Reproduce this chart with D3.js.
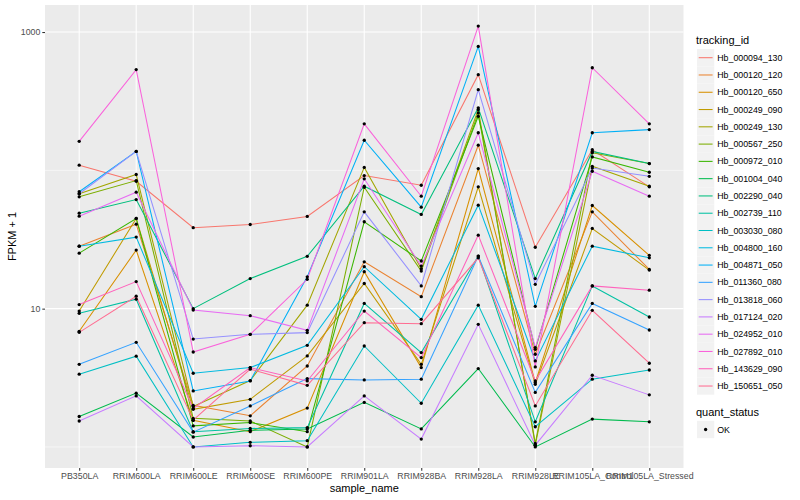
<!DOCTYPE html>
<html>
<head>
<meta charset="utf-8">
<script src="https://cdn.jsdelivr.net/npm/d3@7"></script>
<style>
  html, body { margin: 0; padding: 0; background: #ffffff; }
  svg { display: block; font-family: "Liberation Sans", Arial, Helvetica, sans-serif; }
</style>
</head>
<body>
<svg id="chart" width="800" height="500"></svg>
<script>
// ---------------- data ----------------
const samples = ["PB350LA","RRIM600LA","RRIM600LE","RRIM600SE","RRIM600PE","RRIM901LA",
                 "RRIM928BA","RRIM928LA","RRIM928LE","RRIM105LA_Control","RRIM105LA_Stressed"];

const trackingIds = ["Hb_000094_130","Hb_000120_120","Hb_000120_650","Hb_000249_090","Hb_000249_130",
  "Hb_000567_250","Hb_000972_010","Hb_001004_040","Hb_002290_040","Hb_002739_110","Hb_003030_080",
  "Hb_004800_160","Hb_004871_050","Hb_011360_080","Hb_013818_060","Hb_017124_020","Hb_024952_010",
  "Hb_027892_010","Hb_143629_090","Hb_150651_050"];

const seriesColors = ["#F8766D","#EA8331","#D89000","#C09B00","#A3A500","#7CAE00","#39B600","#00BB4E",
  "#00BF7D","#00C1A3","#00BFC4","#00BAE0","#00B0F6","#35A2FF","#9590FF","#C77CFF","#E76BF3",
  "#FA62DB","#FF62BC","#FF6C91"];

// FPKM + 1, one array per tracking_id, in sample order
const v_000094_130 = [109, 83.4, 38.5, 40.6, 46.4, 91.7, 78, 492, 27.8, 141, 76];
const v_000120_120 = [28.3, 40.8, 2.0, 1.68, 3.85, 21.8, 12.2, 152, 4.68, 50.1, 19.2];
const v_000120_650 = [6.86, 26.5, 1.56, 1.29, 1.91, 18.5, 3.75, 103, 2.92, 55.7, 24.3];
const v_000249_090 = [9.61, 44.9, 1.87, 2.21, 4.55, 15.2, 3.96, 76, 2.84, 38, 19.0];
const v_000249_130 = [67.7, 93.3, 1.96, 3.02, 10.6, 105, 19.4, 275, 1.03, 107, 76.8];
const v_000567_250 = [64.4, 84.4, 1.61, 1.54, 1.0, 75.5, 18.7, 260, 1.06, 134, 112];
const v_000972_010 = [25.2, 44.9, 1.42, 1.50, 1.29, 42.5, 22.1, 246, 5.08, 125, 96.9];
const v_001004_040 = [1.66, 2.45, 1.18, 1.32, 1.35, 2.10, 1.35, 3.69, 1.0, 1.59, 1.52];
const v_002290_040 = [49, 61.5, 10.0, 16.5, 23.9, 76.8, 48, 283, 16.5, 137, 112];
const v_002739_110 = [9.25, 11.7, 1.29, 1.36, 1.38, 10.9, 4.81, 24.0, 1.52, 14.6, 8.70];
const v_003030_080 = [3.36, 4.53, 1.0, 1.08, 1.11, 5.37, 2.07, 10.6, 1.40, 3.09, 3.60];
const v_004800_160 = [28.3, 32.9, 3.41, 3.75, 5.43, 20.1, 8.37, 56, 4.19, 28.3, 23.3];
const v_004871_050 = [70, 137, 2.54, 3.0, 17.0, 165, 54.2, 787, 10.4, 187, 197];
const v_011360_080 = [3.96, 5.71, 1.28, 1.98, 3.12, 3.05, 3.09, 24.0, 2.48, 10.9, 7.01];
const v_013818_060 = [67.7, 137, 6.03, 6.52, 6.71, 50.1, 14.6, 383, 15.0, 104, 90.6];
const v_017124_020 = [1.54, 2.34, 1.0, 1.02, 1.0, 2.34, 1.14, 7.70, 1.03, 3.30, 2.38];
const v_024952_010 = [46.6, 69.5, 9.77, 8.9, 6.97, 86.9, 20.3, 187, 5.23, 98.5, 65];
const v_027892_010 = [162, 535, 4.86, 6.52, 16.3, 217, 65, 1105, 3.79, 552, 217];
const v_143629_090 = [10.7, 15.7, 1.90, 3.75, 3.0, 9.61, 4.43, 34.0, 3.0, 14.6, 13.6];
const v_150651_050 = [6.74, 12.3, 1.56, 3.65, 2.79, 7.92, 7.79, 23.3, 1.98, 9.72, 4.03];

const yMajorTicks = [10, 1000];
const yMajorLabels = ["10", "1000"];
const yMinorTicks = [1, 100];
const quantStatus = ["OK"];

const seriesValues = [v_000094_130, v_000120_120, v_000120_650, v_000249_090, v_000249_130,
  v_000567_250, v_000972_010, v_001004_040, v_002290_040, v_002739_110, v_003030_080,
  v_004800_160, v_004871_050, v_011360_080, v_013818_060, v_017124_020, v_024952_010,
  v_027892_010, v_143629_090, v_150651_050];

const series = trackingIds.map((id, i) => ({
  id, color: seriesColors[i],
  values: samples.map((s, j) => ({ sample: s, value: seriesValues[i][j] }))
}));

// ---------------- layout ----------------
const svg = d3.select("#chart");
const panel = { left: 45, right: 683.5, top: 5, bottom: 468 };

const allVals = seriesValues.flat();
const lmin = Math.log10(d3.min(allVals)), lmax = Math.log10(d3.max(allVals));
const ex = (lmax - lmin) * 0.05;
const y = d3.scaleLog().domain([Math.pow(10, lmin - ex), Math.pow(10, lmax + ex)])
  .range([panel.bottom, panel.top]);
const x = d3.scalePoint().domain(samples).range([panel.left, panel.right]).padding(0.6);

// panel background
svg.append("rect").attr("x", panel.left).attr("y", panel.top)
  .attr("width", panel.right - panel.left).attr("height", panel.bottom - panel.top)
  .attr("fill", "#EBEBEB");

const grid = svg.append("g");
yMinorTicks.forEach(t => {
  grid.append("line").attr("x1", panel.left).attr("x2", panel.right)
    .attr("y1", y(t)).attr("y2", y(t)).attr("stroke", "#FFFFFF").attr("stroke-width", 0.55);
});
yMajorTicks.forEach(t => {
  grid.append("line").attr("x1", panel.left).attr("x2", panel.right)
    .attr("y1", y(t)).attr("y2", y(t)).attr("stroke", "#FFFFFF").attr("stroke-width", 1.1);
});
samples.forEach(s => {
  grid.append("line").attr("x1", x(s)).attr("x2", x(s))
    .attr("y1", panel.top).attr("y2", panel.bottom).attr("stroke", "#FFFFFF").attr("stroke-width", 1.1);
});

// lines
const line = d3.line().x(d => x(d.sample)).y(d => y(d.value));
svg.append("g").selectAll("path").data(series).join("path")
  .attr("d", d => line(d.values)).attr("fill", "none")
  .attr("stroke", d => d.color).attr("stroke-width", 1.05);

// points
svg.append("g").selectAll("circle")
  .data(series.flatMap(s => s.values)).join("circle")
  .attr("cx", d => x(d.sample)).attr("cy", d => y(d.value))
  .attr("r", 1.65).attr("fill", "#000000");

// axes
const yAxis = d3.axisLeft(y).tickValues(yMajorTicks)
  .tickFormat((d, i) => yMajorLabels[i]).tickSize(2.7).tickPadding(2);
const gy = svg.append("g").attr("transform", `translate(${panel.left},0)`).call(yAxis);
gy.select(".domain").remove();
gy.selectAll("line").attr("stroke", "#333333").attr("stroke-width", 1.05);
gy.selectAll("text").attr("fill", "#4D4D4D").style("font-size", "8.8px");

const xAxis = d3.axisBottom(x).tickSize(2.7).tickPadding(2);
const gx = svg.append("g").attr("transform", `translate(0,${panel.bottom})`).call(xAxis);
gx.select(".domain").remove();
gx.selectAll("line").attr("stroke", "#333333").attr("stroke-width", 1.05);
gx.selectAll("text").attr("fill", "#4D4D4D").style("font-size", "8.8px");

// axis titles
svg.append("text").attr("x", (panel.left + panel.right) / 2).attr("y", 492)
  .attr("text-anchor", "middle").style("font-size", "11px").attr("fill", "#000")
  .text("sample_name");
svg.append("text")
  .attr("transform", `translate(16,${(panel.top + panel.bottom) / 2}) rotate(-90)`)
  .attr("text-anchor", "middle").style("font-size", "11px").attr("fill", "#000")
  .text("FPKM + 1");

// legend: tracking_id
const lg = svg.append("g");
const keyX = 697, keySize = 17.28, row0 = 57.7;
lg.append("text").attr("x", 696).attr("y", 44).style("font-size", "11px").text("tracking_id");
series.forEach((s, i) => {
  const cy = row0 + i * keySize;
  lg.append("rect").attr("x", keyX).attr("y", cy - keySize / 2)
    .attr("width", keySize).attr("height", keySize).attr("fill", "#F2F2F2");
  lg.append("line").attr("x1", keyX + 1.7).attr("x2", keyX + keySize - 1.7)
    .attr("y1", cy).attr("y2", cy).attr("stroke", s.color).attr("stroke-width", 1.05);
  lg.append("text").attr("x", keyX + keySize + 3).attr("y", cy + 3.1)
    .style("font-size", "8.8px").attr("fill", "#000").text(s.id);
});

// legend: quant_status
lg.append("text").attr("x", 696).attr("y", 416).style("font-size", "11px").text("quant_status");
quantStatus.forEach((q, i) => {
  const cy = 429.5 + i * keySize;
  lg.append("rect").attr("x", keyX).attr("y", cy - keySize / 2)
    .attr("width", keySize).attr("height", keySize).attr("fill", "#F2F2F2");
  lg.append("circle").attr("cx", keyX + keySize / 2).attr("cy", cy).attr("r", 1.65).attr("fill", "#000");
  lg.append("text").attr("x", keyX + keySize + 3).attr("y", cy + 3.1)
    .style("font-size", "8.8px").attr("fill", "#000").text(q);
});
</script>
</body>
</html>
